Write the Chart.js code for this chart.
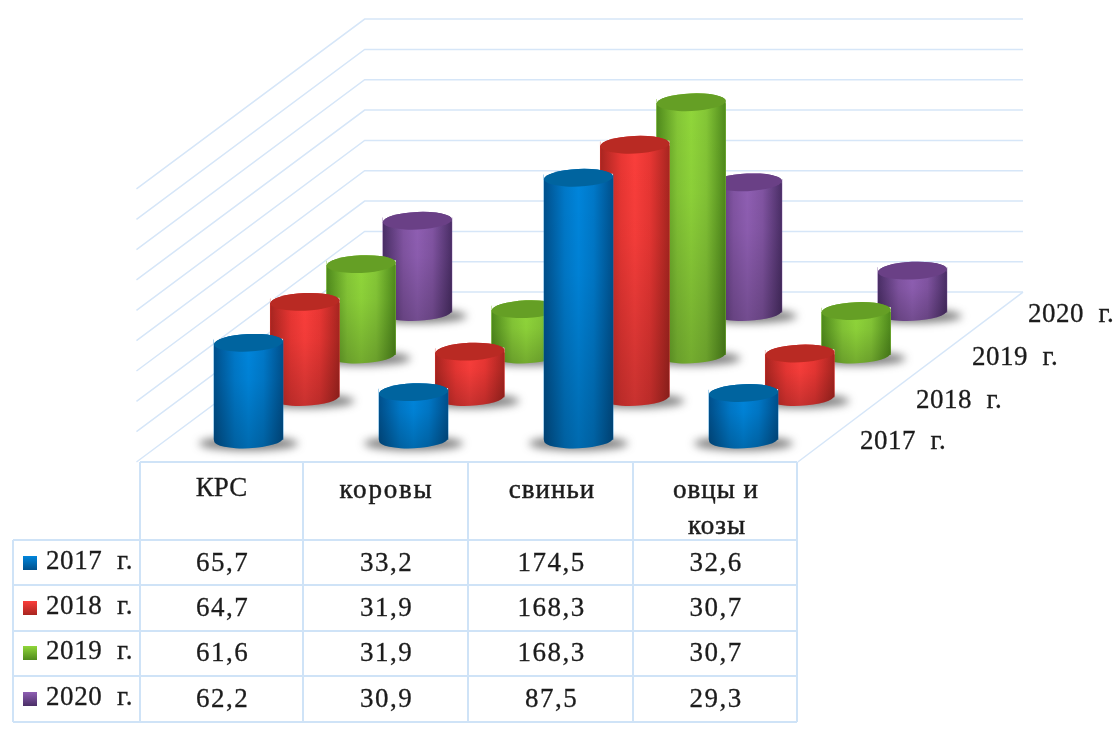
<!DOCTYPE html>
<html lang="ru"><head><meta charset="utf-8">
<style>html,body{margin:0;padding:0;background:#fff}canvas{display:block;filter:blur(0.6px)}</style>
<script src="https://cdn.jsdelivr.net/npm/chart.js@4/dist/chart.umd.min.js"></script>
</head><body>
<canvas id="c" width="1116" height="731"></canvas>
<script>
const categories = ['КРС','коровы','свиньи','овцы и козы'];
const seriesNames = ['2017  г.','2018  г.','2019  г.','2020  г.'];
const values2017 = [65.7,33.2,174.5,32.6];
const values2018 = [64.7,31.9,168.3,30.7];
const values2019 = [61.6,31.9,168.3,30.7];
const values2020 = [62.2,30.9,87.5,29.3];
const gridTicks = [0,20,40,60,80,100,120,140,160,180];
const allValues = [values2017,values2018,values2019,values2020];

const DEPTH_X = 0.3412, DEPTH_Y = 28;
const palette = [
 {base:'#0078c8',edge:'#00508c',mid:'#0085db',top:'#00649f'},
 {base:'#e83633',edge:'#a82520',mid:'#fa3e3b',top:'#b92a23'},
 {base:'#84c636',edge:'#4f8a1c',mid:'#90d63a',top:'#659f25'},
 {base:'#8154a2',edge:'#4a2e66',mid:'#8f5fb3',top:'#6a4086'}
];
const datasets = seriesNames.map((n,d)=>({
  label:n,
  data:allValues[d].map((v,i)=>({x:i+d*DEPTH_X,y:[d*DEPTH_Y,d*DEPTH_Y+v]})),
  backgroundColor:palette[d].base,
  barThickness:69,
  grouped:false
}));
const font = (s,w='')=>`${w} ${s}px "Liberation Serif"`;
function text(ctx,t,x,y,size,ls,align='center',heavy=0.3){
  ctx.font=font(size);ctx.letterSpacing=ls+'px';ctx.textAlign=align;ctx.textBaseline='middle';
  ctx.fillStyle='#1c1c1c';ctx.fillText(t,x,y);
  ctx.strokeStyle='#1c1c1c';ctx.lineWidth=heavy;ctx.strokeText(t,x,y);
}
const wall = {
  id:'wall',
  beforeDatasetsDraw(chart){
    const {ctx,scales:{x,y}}=chart;
    const F=-0.53,B=3.47,L=-0.48,R=3.51;
    const px=(c,d)=>x.getPixelForValue(c+d*DEPTH_X), py=(v,d)=>y.getPixelForValue(v+d*DEPTH_Y);
    ctx.save();ctx.strokeStyle='#d6e6f8';ctx.lineWidth=1.5;
    gridTicks.forEach(v=>{
      ctx.beginPath();ctx.moveTo(px(L,F)-3,py(v,F));ctx.lineTo(px(L,B),py(v,B));ctx.lineTo(px(R,B),py(v,B));ctx.stroke();
    });
    ctx.beginPath();ctx.moveTo(px(R,F),py(0,F));ctx.lineTo(px(R,B),py(0,B));ctx.stroke();
    ctx.restore();
  }
};
const cylinders = {
  id:'cylinders',
  afterDatasetDraw(chart,args){
    const {ctx}=chart, p=palette[args.index], meta=args.meta;
    meta.data.forEach(el=>{
      const props=el.getProps(['x','y','base','width'],true);
      const cx=props.x, top=props.y+3, base=props.base, width=props.width;
      const rx=width/2, ry=8.8, rot=-0.045;
      ctx.save();
      ctx.filter='blur(4px)';ctx.fillStyle='rgba(50,50,50,.62)';
      ctx.beginPath();ctx.ellipse(cx,base+4,rx+15,7,0,0,Math.PI*2);ctx.fill();
      ctx.filter='none';
      ctx.fillStyle='#fff';ctx.fillRect(cx-rx,props.y-1,width,5);
      const body=new Path2D();
      body.ellipse(cx,base,rx,ry,rot,0,Math.PI);
      body.ellipse(cx,top,rx,ry,rot,Math.PI,Math.PI*2);
      body.closePath();
      const g=ctx.createLinearGradient(cx-rx,0,cx+rx,0);
      g.addColorStop(0,p.edge);g.addColorStop(.3,p.base);g.addColorStop(.5,p.mid);g.addColorStop(.72,p.base);g.addColorStop(1,p.edge);
      ctx.fillStyle=g;ctx.fill(body);
      const v=ctx.createLinearGradient(0,top,0,base+ry);
      v.addColorStop(0,'rgba(0,0,0,0)');v.addColorStop(.35,'rgba(0,0,0,.03)');v.addColorStop(1,'rgba(0,0,0,.2)');
      ctx.fillStyle=v;ctx.fill(body);
      ctx.fillStyle=p.top;ctx.beginPath();ctx.ellipse(cx,top,rx,ry,rot,0,Math.PI*2);ctx.fill();
      ctx.restore();
    });
  }
};
const tableCols=[13,140,303,468,633,797];
const tableRows=[462,540,585,631,676,722];
const rowText=[564,609,654,700];
const depthLabelX=[860,916,972,1028], depthLabelY=[442,401,358,315];
const table = {
  id:'table',
  afterDraw(chart){
    const {ctx}=chart;
    ctx.save();ctx.strokeStyle='#cfe3f7';ctx.lineWidth=2;ctx.beginPath();
    ctx.moveTo(tableCols[1],tableRows[0]);ctx.lineTo(tableCols[5],tableRows[0]);
    tableRows.slice(1).forEach(r=>{ctx.moveTo(tableCols[0],r);ctx.lineTo(tableCols[5],r);});
    tableCols.forEach((c,i)=>{ctx.moveTo(c,i===0?tableRows[1]:tableRows[0]);ctx.lineTo(c,tableRows[5]);});
    ctx.stroke();
    text(ctx,categories[0],221.5,489,27,0);
    text(ctx,categories[1],386.5,491,27,1.8,'center',.5);
    text(ctx,categories[2],552,491,27,1,'center',.5);
    const parts=categories[3].split(' ');
    text(ctx,parts[0]+' '+parts[1],716,491,27,1,'center',.5);
    text(ctx,parts[2],717,527,27,1,'center',.5);
    seriesNames.forEach((n,d)=>{
      const y=rowText[d];
      const g=ctx.createLinearGradient(0,y-8,0,y+6);
      g.addColorStop(0,palette[d].mid);g.addColorStop(1,palette[d].edge);
      ctx.fillStyle=g;ctx.fillRect(23,y-8,14,14);
      text(ctx,n,46,y-2,27,0.6,'left');
      allValues[d].forEach((v,i)=>{
        text(ctx,v.toFixed(1).replace('.',','),(tableCols[i+1]+tableCols[i+2])/2+1,y,27,1.5);
      });
      text(ctx,n,depthLabelX[d],depthLabelY[d],27,0.5,'left');
    });
    ctx.restore();
  }
};
const PXU=1.517, CW=165;
new Chart(document.getElementById('c'),{
  type:'bar',
  data:{datasets},
  plugins:[wall,cylinders,table],
  options:{
    responsive:false,animation:false,
    layout:{padding:0},
    plugins:{legend:{display:false},tooltip:{enabled:false},title:{display:false}},
    scales:{
      x:{type:'linear',display:false,offset:false,grid:{offset:false},min:-248.5/CW,max:(1116-248.5)/CW},
      y:{type:'linear',display:false,min:-(731-439.5)/PXU,max:439.5/PXU}
    }
  }
});
</script>
</body></html>
